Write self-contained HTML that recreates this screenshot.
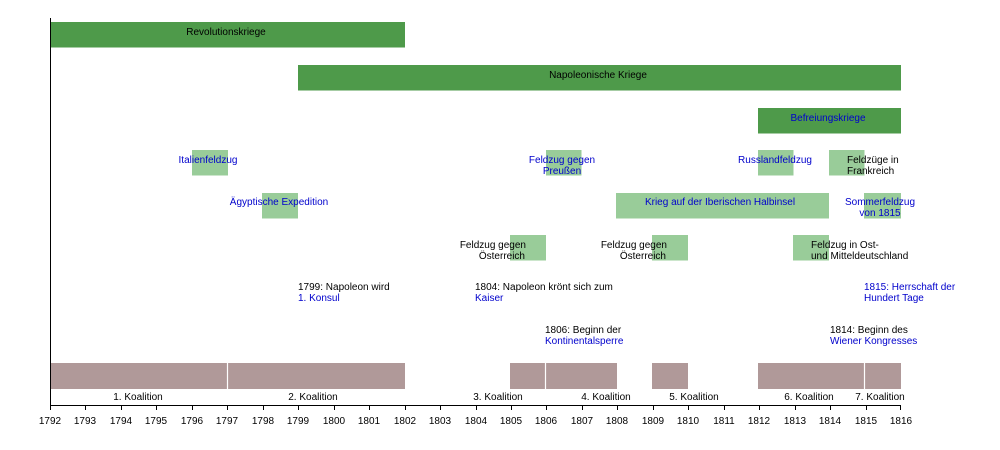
<!DOCTYPE html>
<html><head><meta charset="utf-8"><style>
html,body{margin:0;padding:0;background:#fff;}
svg{display:block;font-family:"Liberation Sans",sans-serif;font-size:10px;}
.b{fill:#0000cc}
</style></head><body>
<svg width="1000" height="450" xmlns="http://www.w3.org/2000/svg">
<g>
<rect x="50" y="22" width="355" height="25.5" fill="#4e9a4a"/>
<rect x="298" y="65" width="603" height="25.5" fill="#4e9a4a"/>
<rect x="758" y="108" width="143" height="25.5" fill="#4e9a4a"/>
<g fill="#99cc99">
<rect x="192" y="150" width="36" height="25.5"/>
<rect x="546" y="150" width="35.5" height="25.5"/>
<rect x="758" y="150" width="35.5" height="25.5"/>
<rect x="829" y="150" width="35.5" height="25.5"/>
<rect x="262" y="193" width="36" height="25.5"/>
<rect x="616" y="193" width="213" height="25.5"/>
<rect x="864" y="193" width="37" height="25.5"/>
<rect x="510" y="235" width="36" height="25.5"/>
<rect x="652" y="235" width="36" height="25.5"/>
<rect x="793" y="235" width="36" height="25.5"/>
</g>
<g fill="#b09999">
<rect x="50" y="363" width="355" height="26"/>
<rect x="510" y="363" width="107" height="26"/>
<rect x="652" y="363" width="36" height="26"/>
<rect x="758" y="363" width="143" height="26"/>
</g>
<g stroke="#fff" stroke-width="1.2">
<line x1="227.5" y1="363" x2="227.5" y2="389"/>
<line x1="545.5" y1="363" x2="545.5" y2="389"/>
<line x1="864.5" y1="363" x2="864.5" y2="389"/>
</g>
<line x1="50.5" y1="18" x2="50.5" y2="405" stroke="#000"/>
<line x1="50" y1="405.5" x2="901" y2="405.5" stroke="#000"/>
<g stroke="#000" id="ticks"></g>
<g id="tl" text-anchor="middle"></g>

<g text-anchor="middle">
<text x="226" y="35">Revolutionskriege</text>
<text x="598" y="78">Napoleonische Kriege</text>
<text x="828" y="121" class="b">Befreiungskriege</text>
<text x="208" y="163" class="b">Italienfeldzug</text>
<text x="562" y="163" class="b">Feldzug gegen</text>
<text x="562" y="174" class="b">Preußen</text>
<text x="775" y="163" class="b">Russlandfeldzug</text>
<text x="279" y="205" class="b">Ägyptische Expedition</text>
<text x="720" y="205" class="b">Krieg auf der Iberischen Halbinsel</text>
<text x="880" y="205" class="b">Sommerfeldzug</text>
<text x="880" y="216" class="b">von 1815</text>
<text x="138" y="400">1. Koalition</text>
<text x="313" y="400">2. Koalition</text>
<text x="498" y="400">3. Koalition</text>
<text x="606" y="400">4. Koalition</text>
<text x="694" y="400">5. Koalition</text>
<text x="809" y="400">6. Koalition</text>
<text x="880" y="400">7. Koalition</text>
</g>
<g text-anchor="end">
<text x="526" y="248">Feldzug gegen</text>
<text x="525" y="259">Österreich</text>
<text x="667" y="248">Feldzug gegen</text>
<text x="666" y="259">Österreich</text>
</g>
<g>
<text x="847" y="163">Feldzüge in</text>
<text x="847" y="174">Frankreich</text>
<text x="811" y="248">Feldzug in Ost-</text>
<text x="811" y="259">und Mitteldeutschland</text>
<text x="298" y="290">1799: Napoleon wird</text>
<text x="298" y="301" class="b">1. Konsul</text>
<text x="475" y="290">1804: Napoleon krönt sich zum</text>
<text x="475" y="301" class="b">Kaiser</text>
<text x="864" y="290" class="b">1815: Herrschaft der</text>
<text x="864" y="301" class="b">Hundert Tage</text>
<text x="545" y="333">1806: Beginn der</text>
<text x="545" y="344" class="b">Kontinentalsperre</text>
<text x="830" y="333">1814: Beginn des</text>
<text x="830" y="344" class="b">Wiener Kongresses</text>
</g>
<g stroke="#000">
<line x1="50.5" y1="405" x2="50.5" y2="410"/><line x1="85.5" y1="405" x2="85.5" y2="410"/><line x1="121.5" y1="405" x2="121.5" y2="410"/><line x1="156.5" y1="405" x2="156.5" y2="410"/><line x1="192.5" y1="405" x2="192.5" y2="410"/><line x1="227.5" y1="405" x2="227.5" y2="410"/><line x1="263.5" y1="405" x2="263.5" y2="410"/><line x1="298.5" y1="405" x2="298.5" y2="410"/><line x1="334.5" y1="405" x2="334.5" y2="410"/><line x1="369.5" y1="405" x2="369.5" y2="410"/><line x1="405.5" y1="405" x2="405.5" y2="410"/><line x1="440.5" y1="405" x2="440.5" y2="410"/><line x1="476.5" y1="405" x2="476.5" y2="410"/><line x1="511.5" y1="405" x2="511.5" y2="410"/><line x1="546.5" y1="405" x2="546.5" y2="410"/><line x1="582.5" y1="405" x2="582.5" y2="410"/><line x1="617.5" y1="405" x2="617.5" y2="410"/><line x1="653.5" y1="405" x2="653.5" y2="410"/><line x1="688.5" y1="405" x2="688.5" y2="410"/><line x1="724.5" y1="405" x2="724.5" y2="410"/><line x1="759.5" y1="405" x2="759.5" y2="410"/><line x1="795.5" y1="405" x2="795.5" y2="410"/><line x1="830.5" y1="405" x2="830.5" y2="410"/><line x1="866.5" y1="405" x2="866.5" y2="410"/><line x1="900.5" y1="405" x2="900.5" y2="410"/>
</g>
<g text-anchor="middle">
<text x="50" y="424">1792</text><text x="85" y="424">1793</text><text x="121" y="424">1794</text><text x="156" y="424">1795</text><text x="192" y="424">1796</text><text x="227" y="424">1797</text><text x="263" y="424">1798</text><text x="298" y="424">1799</text><text x="334" y="424">1800</text><text x="369" y="424">1801</text><text x="405" y="424">1802</text><text x="440" y="424">1803</text><text x="476" y="424">1804</text><text x="511" y="424">1805</text><text x="546" y="424">1806</text><text x="582" y="424">1807</text><text x="617" y="424">1808</text><text x="653" y="424">1809</text><text x="688" y="424">1810</text><text x="724" y="424">1811</text><text x="759" y="424">1812</text><text x="795" y="424">1813</text><text x="830" y="424">1814</text><text x="866" y="424">1815</text><text x="901" y="424">1816</text>
</g>
</g>
</svg>
</body></html>
